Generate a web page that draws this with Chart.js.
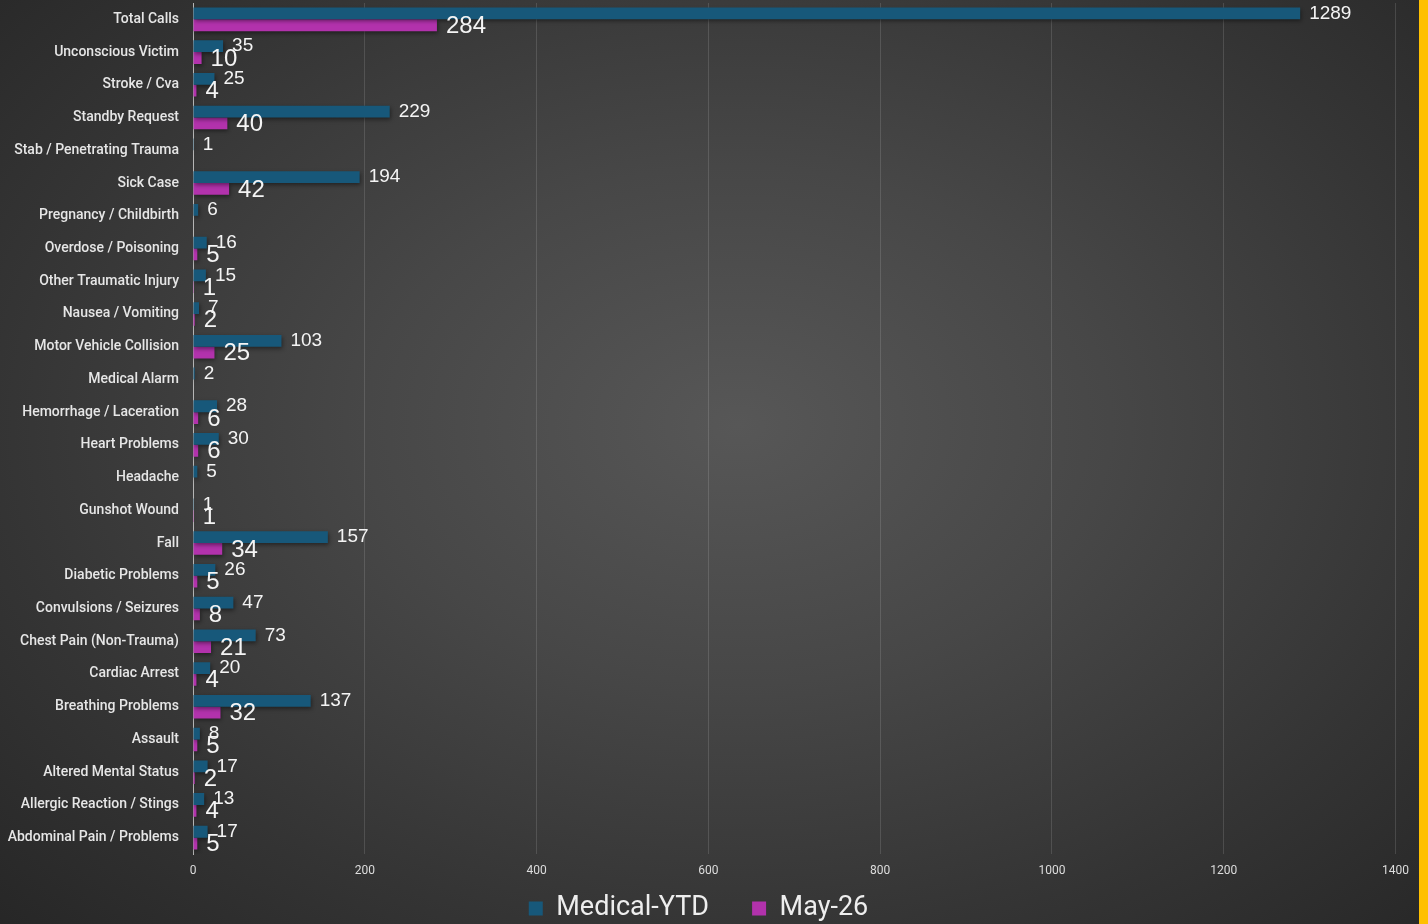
<!DOCTYPE html>
<html>
<head>
<meta charset="utf-8">
<script src="https://cdn.jsdelivr.net/npm/chart.js@4/dist/chart.umd.min.js"></script>
<style>
  html, body { margin: 0; padding: 0; width: 1428px; height: 924px; overflow: hidden; }
  body { background: #1e1e1e; }
  #wrap {
    position: absolute; left: 0; top: 0; width: 1419px; height: 924px;
    background: radial-gradient(ellipse 75% 80% at 52% 46%, #575757 0%, #474747 35%, #343434 70%, #252525 100%);
  }
  #strip { position: absolute; left: 1419px; top: 0; width: 9px; height: 924px; background: #FFC000; }
  canvas { display: block; }
</style>
</head>
<body>
<div id="wrap"><canvas id="c" width="1419" height="924"></canvas></div>
<div id="strip"></div>
<script>
const categories = [
  "Total Calls", "Unconscious Victim", "Stroke / Cva", "Standby Request",
  "Stab / Penetrating Trauma", "Sick Case", "Pregnancy / Childbirth",
  "Overdose / Poisoning", "Other Traumatic Injury", "Nausea / Vomiting",
  "Motor Vehicle Collision", "Medical Alarm", "Hemorrhage / Laceration",
  "Heart Problems", "Headache", "Gunshot Wound", "Fall", "Diabetic Problems",
  "Convulsions / Seizures", "Chest Pain (Non-Trauma)", "Cardiac Arrest",
  "Breathing Problems", "Assault", "Altered Mental Status",
  "Allergic Reaction / Stings", "Abdominal Pain / Problems"
];
const medicalYTD = [1289, 35, 25, 229, 1, 194, 6, 16, 15, 7, 103, 2, 28, 30, 5, 1, 157, 26, 47, 73, 20, 137, 8, 17, 13, 17];
const may26 = [284, 10, 4, 40, null, 42, null, 5, 1, 2, 25, null, 6, 6, null, 1, 34, 5, 8, 21, 4, 32, 5, 2, 4, 5];
const xTicks = [0, 200, 400, 600, 800, 1000, 1200, 1400];
const seriesNames = ['Medical-YTD', 'May-26'];

const labelPlugin = {
  id: 'valueLabels',
  afterDatasetsDraw(chart) {
    const ctx = chart.ctx;
    ctx.save();
    ctx.fillStyle = '#f4f4f4';
    ctx.textBaseline = 'middle';
    ctx.textAlign = 'left';
    chart.data.datasets.forEach((ds, di) => {
      const meta = chart.getDatasetMeta(di);
      ctx.font = (di === 0 ? '19px' : '24px') + ' "Liberation Sans", Arial, sans-serif';
      meta.data.forEach((bar, i) => {
        const v = ds.data[i];
        if (v === null || v === undefined) return;
        ctx.fillText(String(v), bar.x + 9, bar.y + (di === 0 ? 0 : 1));
      });
    });
    ctx.restore();
  }
};

const shadowPlugin = {
  id: 'barShadow',
  beforeDatasetsDraw(chart) {
    const ctx = chart.ctx;
    ctx.save();
    ctx.shadowColor = 'rgba(0,0,0,0.45)';
    ctx.shadowBlur = 4;
    ctx.shadowOffsetX = 1;
    ctx.shadowOffsetY = 2;
  },
  afterDatasetsDraw(chart) {
    chart.ctx.restore();
  }
};

new Chart(document.getElementById('c'), {
  type: 'bar',
  data: {
    labels: categories,
    datasets: [
      { label: seriesNames[0], data: medicalYTD, backgroundColor: '#17587a', borderWidth: 0,
        categoryPercentage: 0.72, barPercentage: 1.0 },
      { label: seriesNames[1], data: may26, backgroundColor: '#b232ac', borderWidth: 0,
        categoryPercentage: 0.72, barPercentage: 1.0 }
    ]
  },
  options: {
    indexAxis: 'y',
    responsive: false,
    animation: false,
    layout: { padding: { top: 3, right: 22, left: 0, bottom: -8 } },
    scales: {
      x: {
        min: 0, max: 1400,
        afterBuildTicks(scale) { scale.ticks = xTicks.map(v => ({ value: v })); },
        afterFit(scale) { scale.height = 31; },
        ticks: { color: '#dddddd', font: { family: 'Roboto', size: 12 }, padding: 10,
                 callback: (v) => String(v) },
        grid: { color: 'rgba(255,255,255,0.13)', drawTicks: false },
        border: { display: false }
      },
      y: {
        afterFit(scale) { scale.width = 193; scale.paddingTop = 0; scale.paddingBottom = 0; },
        ticks: { color: '#e6e6e6', font: { family: 'Roboto', size: 14, weight: '500' }, padding: 14, autoSkip: false },
        grid: { display: false, drawTicks: false },
        border: { display: true, color: '#b5b5b5', width: 1 }
      }
    },
    plugins: {
      legend: {
        position: 'bottom',
        labels: {
          color: '#eeeeee',
          font: { family: 'Roboto', size: 27 },
          boxWidth: 14, boxHeight: 14, padding: 10,
          generateLabels(chart) {
            const items = Chart.defaults.plugins.legend.labels.generateLabels(chart);
            items[0].text = items[0].text + '\u2002\u2002\u2009';
            return items;
          }
        }
      },
      tooltip: { enabled: false }
    }
  },
  plugins: [shadowPlugin, labelPlugin]
});
</script>
</body>
</html>
